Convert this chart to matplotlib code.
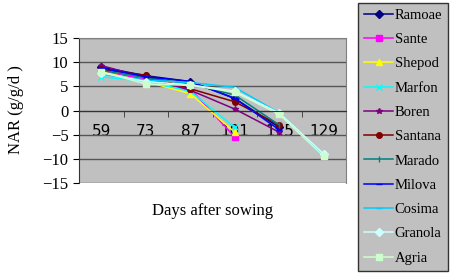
import numpy as np
import matplotlib
matplotlib.use('Agg')
import matplotlib.pyplot as plt

plt.rcParams['font.family'] = ['Liberation Serif', 'DejaVu Serif']

days = ['59', '73', '87', '101', '115', '129']
nan = np.nan

# NAR values per variety (g/g/d)
ramoae  = [9.0, 7.2, 6.0, 2.5, -3.5, nan]
sante   = [8.0, 6.5, 4.5, -5.5, nan, nan]
shepod  = [8.0, 6.0, 3.5, -4.5, nan, nan]
marfon  = [7.0, 6.0, 4.0, -3.5, nan, nan]
boren   = [9.3, 6.8, 4.2, 0.3, -4.5, nan]
santana = [8.5, 7.3, 4.5, 1.8, -3.0, nan]
marado  = [8.3, 6.8, 5.5, 3.2, -3.0, nan]
milova  = [8.8, 7.0, 6.0, 2.5, -4.0, nan]
cosima  = [7.5, 6.3, 5.8, 4.8, -0.5, -9.5]
granola = [7.8, 6.0, 5.3, 4.0, -0.5, -9.0]
agria   = [8.0, 5.5, 5.2, 3.8, -0.8, -9.5]

series = [
    ('Ramoae', ramoae, '#000080', 'D'),
    ('Sante', sante, '#FF00FF', 's'),
    ('Shepod', shepod, '#FFFF00', '^'),
    ('Marfon', marfon, '#00FFFF', 'x'),
    ('Boren', boren, '#800080', '*'),
    ('Santana', santana, '#800000', 'o'),
    ('Marado', marado, '#008080', '|'),
    ('Milova', milova, '#0000FF', '_'),
    ('Cosima', cosima, '#00CCFF', '_'),
    ('Granola', granola, '#CCFFFF', 'D'),
    ('Agria', agria, '#CCFFCC', 's'),
]

fig = plt.figure(figsize=(4.5, 2.75), dpi=100)
ax = fig.add_axes([0.1756, 0.3345, 0.5933, 0.5273])
ax.set_facecolor('#C0C0C0')

x = np.arange(len(days))
for name, vals, col, mk in series:
    ax.plot(x, vals, color=col, marker=mk, markersize=4, linewidth=1.1,
            markeredgecolor=col, label=name)

ax.set_xlim(-0.5, len(days) - 0.5)
ax.set_ylim(-15, 15)
ax.set_yticks([-15, -10, -5, 0, 5, 10, 15])
ax.yaxis.grid(True, color='#555555', linewidth=1)
ax.set_axisbelow(True)
ax.tick_params(axis='y', labelsize=12, length=4, direction='out')

# category axis crosses at zero
ax.spines['bottom'].set_position(('data', 0))
ax.spines['bottom'].set_color('#333333')
ax.set_xticks(x)
ax.set_xticklabels(days, fontfamily='DejaVu Sans', fontsize=11)
ax.set_xticks(np.arange(len(days) + 1) - 0.5, minor=True)
ax.tick_params(axis='x', which='major', length=0, pad=10)
ax.tick_params(axis='x', which='minor', length=4, direction='out', color='#333333')
ax.spines['top'].set_color('#808080')
ax.spines['right'].set_color('#808080')
ax.spines['left'].set_color('#333333')

fig.text(0.472, 0.232, 'Days after sowing', ha='center', va='center', fontsize=12)
fig.text(0.035, 0.6, 'NAR (g/g/d )', ha='center', va='center', rotation=90, fontsize=12)

leg = fig.legend(loc='upper right', bbox_to_anchor=(0.996, 0.99), fontsize=10.5,
                 frameon=True, fancybox=False, handlelength=2.0, handletextpad=0.1,
                 labelspacing=0.76, borderpad=0.4, borderaxespad=0)
leg.get_frame().set_facecolor('#C0C0C0')
leg.get_frame().set_edgecolor('#333333')
leg.get_frame().set_alpha(1)

fig.savefig('out.png', dpi=100, facecolor='white')
